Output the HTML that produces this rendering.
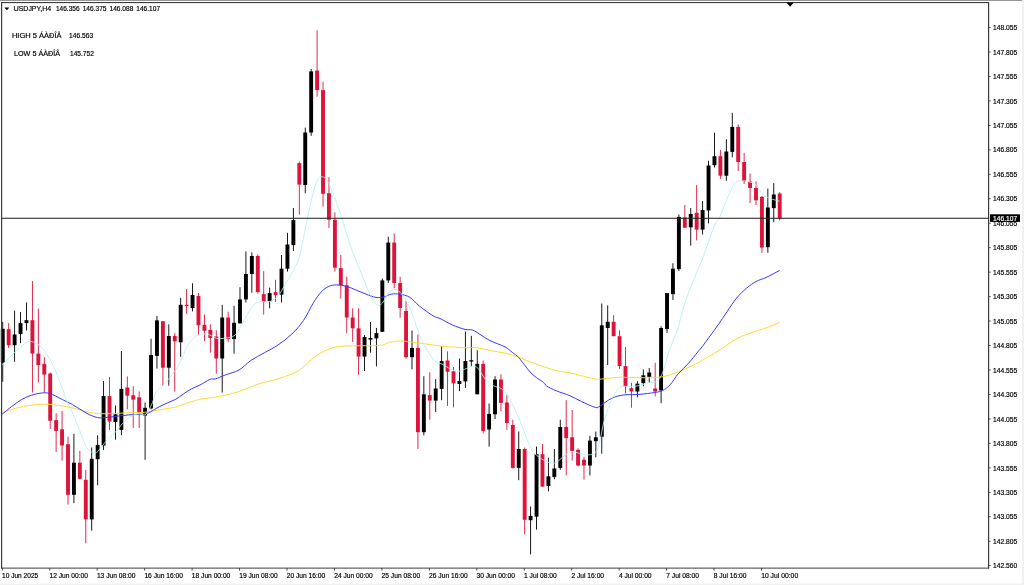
<!DOCTYPE html><html><head><meta charset="utf-8"><title>USDJPY,H4</title>
<style>html,body{margin:0;padding:0;background:#fff;overflow:hidden}svg{display:block}text{font-family:"Liberation Sans",sans-serif;fill:#000;stroke:#000;stroke-width:0.18px}</style></head><body>
<svg width="1024" height="585" viewBox="0 0 1024 585">
<rect x="0" y="0" width="1024" height="585" fill="#fff"/>
<rect x="0" y="0" width="1023" height="0.9" fill="#8c8c8c"/>
<rect x="1022" y="0" width="2" height="585" fill="#f1f1f1"/>
<rect x="0" y="583.6" width="1024" height="1.4" fill="#f1f1f1"/>
<rect x="2.30" y="321.9" width="0.9" height="59.9" fill="#000"/>
<rect x="0.80" y="328.8" width="3.9" height="33.8" fill="#000"/>
<rect x="8.23" y="323.1" width="0.9" height="25.0" fill="#dc143c"/>
<rect x="6.73" y="329.2" width="3.9" height="16.0" fill="#dc143c"/>
<rect x="14.16" y="310.6" width="0.9" height="51.2" fill="#000"/>
<rect x="12.66" y="334.5" width="3.9" height="10.7" fill="#000"/>
<rect x="20.09" y="312.0" width="0.9" height="31.2" fill="#000"/>
<rect x="18.59" y="323.1" width="3.9" height="11.0" fill="#000"/>
<rect x="26.02" y="302.4" width="0.9" height="28.1" fill="#000"/>
<rect x="24.52" y="320.2" width="3.9" height="2.9" fill="#000"/>
<rect x="31.96" y="281.1" width="0.9" height="111.4" fill="#dc143c"/>
<rect x="30.46" y="320.2" width="3.9" height="33.4" fill="#dc143c"/>
<rect x="37.89" y="308.5" width="0.9" height="73.8" fill="#dc143c"/>
<rect x="36.39" y="353.6" width="3.9" height="11.5" fill="#dc143c"/>
<rect x="43.82" y="356.9" width="0.9" height="35.6" fill="#dc143c"/>
<rect x="42.32" y="363.8" width="3.9" height="10.8" fill="#dc143c"/>
<rect x="49.75" y="372.5" width="0.9" height="56.4" fill="#dc143c"/>
<rect x="48.25" y="373.5" width="3.9" height="47.2" fill="#dc143c"/>
<rect x="55.68" y="413.3" width="0.9" height="38.7" fill="#dc143c"/>
<rect x="54.18" y="420.1" width="3.9" height="10.8" fill="#dc143c"/>
<rect x="61.61" y="411.0" width="0.9" height="49.6" fill="#dc143c"/>
<rect x="60.11" y="429.3" width="3.9" height="16.2" fill="#dc143c"/>
<rect x="67.54" y="436.7" width="0.9" height="67.9" fill="#dc143c"/>
<rect x="66.04" y="444.2" width="3.9" height="50.6" fill="#dc143c"/>
<rect x="73.47" y="433.8" width="0.9" height="69.4" fill="#000"/>
<rect x="71.97" y="462.7" width="3.9" height="32.1" fill="#000"/>
<rect x="79.40" y="450.8" width="0.9" height="28.3" fill="#dc143c"/>
<rect x="77.90" y="462.7" width="3.9" height="16.1" fill="#dc143c"/>
<rect x="85.33" y="469.9" width="0.9" height="73.4" fill="#dc143c"/>
<rect x="83.83" y="479.8" width="3.9" height="39.6" fill="#dc143c"/>
<rect x="91.27" y="447.5" width="0.9" height="83.1" fill="#000"/>
<rect x="89.77" y="458.8" width="3.9" height="60.6" fill="#000"/>
<rect x="97.20" y="435.2" width="0.9" height="50.1" fill="#000"/>
<rect x="95.70" y="444.9" width="3.9" height="14.3" fill="#000"/>
<rect x="103.13" y="381.0" width="0.9" height="69.0" fill="#000"/>
<rect x="101.63" y="396.1" width="3.9" height="49.4" fill="#000"/>
<rect x="109.06" y="377.0" width="0.9" height="52.9" fill="#dc143c"/>
<rect x="107.56" y="396.1" width="3.9" height="25.4" fill="#dc143c"/>
<rect x="114.99" y="405.5" width="0.9" height="34.2" fill="#000"/>
<rect x="113.49" y="414.3" width="3.9" height="7.8" fill="#000"/>
<rect x="120.92" y="351.0" width="0.9" height="84.2" fill="#000"/>
<rect x="119.42" y="388.9" width="3.9" height="41.0" fill="#000"/>
<rect x="126.85" y="376.4" width="0.9" height="33.0" fill="#dc143c"/>
<rect x="125.35" y="387.5" width="3.9" height="8.2" fill="#dc143c"/>
<rect x="132.78" y="386.3" width="0.9" height="41.6" fill="#dc143c"/>
<rect x="131.28" y="395.3" width="3.9" height="4.3" fill="#dc143c"/>
<rect x="138.71" y="391.4" width="0.9" height="36.5" fill="#dc143c"/>
<rect x="137.21" y="397.3" width="3.9" height="16.0" fill="#dc143c"/>
<rect x="144.64" y="402.6" width="0.9" height="57.2" fill="#000"/>
<rect x="143.14" y="407.8" width="3.9" height="7.8" fill="#000"/>
<rect x="150.58" y="338.8" width="0.9" height="70.6" fill="#000"/>
<rect x="149.08" y="355.0" width="3.9" height="53.4" fill="#000"/>
<rect x="156.51" y="315.9" width="0.9" height="52.7" fill="#000"/>
<rect x="155.01" y="320.4" width="3.9" height="35.5" fill="#000"/>
<rect x="162.44" y="321.0" width="0.9" height="64.5" fill="#dc143c"/>
<rect x="160.94" y="321.2" width="3.9" height="46.5" fill="#dc143c"/>
<rect x="168.37" y="324.3" width="0.9" height="61.3" fill="#000"/>
<rect x="166.87" y="336.0" width="3.9" height="31.7" fill="#000"/>
<rect x="174.30" y="332.9" width="0.9" height="58.7" fill="#dc143c"/>
<rect x="172.80" y="336.0" width="3.9" height="5.3" fill="#dc143c"/>
<rect x="180.23" y="297.9" width="0.9" height="59.0" fill="#000"/>
<rect x="178.73" y="304.8" width="3.9" height="37.5" fill="#000"/>
<rect x="186.16" y="289.1" width="0.9" height="24.8" fill="#dc143c"/>
<rect x="184.66" y="304.8" width="3.9" height="1.3" fill="#dc143c"/>
<rect x="192.09" y="283.3" width="0.9" height="28.1" fill="#000"/>
<rect x="190.59" y="295.0" width="3.9" height="13.1" fill="#000"/>
<rect x="198.02" y="293.0" width="0.9" height="42.2" fill="#dc143c"/>
<rect x="196.52" y="296.0" width="3.9" height="29.3" fill="#dc143c"/>
<rect x="203.95" y="314.6" width="0.9" height="26.4" fill="#dc143c"/>
<rect x="202.45" y="324.8" width="3.9" height="5.9" fill="#dc143c"/>
<rect x="209.89" y="324.4" width="0.9" height="28.3" fill="#dc143c"/>
<rect x="208.39" y="329.8" width="3.9" height="8.2" fill="#dc143c"/>
<rect x="215.82" y="330.2" width="0.9" height="43.3" fill="#dc143c"/>
<rect x="214.32" y="336.5" width="3.9" height="22.0" fill="#dc143c"/>
<rect x="221.75" y="304.8" width="0.9" height="87.7" fill="#000"/>
<rect x="220.25" y="317.5" width="3.9" height="41.0" fill="#000"/>
<rect x="227.68" y="311.7" width="0.9" height="30.3" fill="#dc143c"/>
<rect x="226.18" y="317.5" width="3.9" height="21.5" fill="#dc143c"/>
<rect x="233.61" y="305.8" width="0.9" height="47.9" fill="#000"/>
<rect x="232.11" y="322.8" width="3.9" height="16.2" fill="#000"/>
<rect x="239.54" y="287.2" width="0.9" height="36.1" fill="#000"/>
<rect x="238.04" y="299.4" width="3.9" height="24.0" fill="#000"/>
<rect x="245.47" y="251.4" width="0.9" height="51.1" fill="#000"/>
<rect x="243.97" y="274.0" width="3.9" height="25.4" fill="#000"/>
<rect x="251.40" y="252.4" width="0.9" height="40.3" fill="#000"/>
<rect x="249.90" y="256.0" width="3.9" height="18.0" fill="#000"/>
<rect x="257.33" y="254.3" width="0.9" height="39.2" fill="#dc143c"/>
<rect x="255.83" y="256.0" width="3.9" height="36.1" fill="#dc143c"/>
<rect x="263.26" y="271.2" width="0.9" height="43.4" fill="#dc143c"/>
<rect x="261.76" y="294.1" width="3.9" height="7.8" fill="#dc143c"/>
<rect x="269.19" y="287.6" width="0.9" height="20.7" fill="#000"/>
<rect x="267.69" y="293.1" width="3.9" height="8.2" fill="#000"/>
<rect x="275.13" y="279.8" width="0.9" height="22.1" fill="#dc143c"/>
<rect x="273.63" y="292.1" width="3.9" height="3.0" fill="#dc143c"/>
<rect x="281.06" y="255.0" width="0.9" height="47.5" fill="#000"/>
<rect x="279.56" y="268.7" width="3.9" height="26.0" fill="#000"/>
<rect x="286.99" y="232.8" width="0.9" height="38.8" fill="#000"/>
<rect x="285.49" y="244.5" width="3.9" height="24.2" fill="#000"/>
<rect x="292.92" y="208.0" width="0.9" height="43.0" fill="#000"/>
<rect x="291.42" y="220.1" width="3.9" height="25.0" fill="#000"/>
<rect x="298.85" y="161.5" width="0.9" height="53.2" fill="#dc143c"/>
<rect x="297.35" y="163.1" width="3.9" height="21.5" fill="#dc143c"/>
<rect x="304.78" y="127.6" width="0.9" height="65.6" fill="#000"/>
<rect x="303.28" y="132.5" width="3.9" height="52.5" fill="#000"/>
<rect x="310.71" y="69.0" width="0.9" height="66.8" fill="#000"/>
<rect x="309.21" y="71.4" width="3.9" height="61.1" fill="#000"/>
<rect x="316.64" y="30.3" width="0.9" height="66.5" fill="#dc143c"/>
<rect x="315.14" y="70.6" width="3.9" height="19.5" fill="#dc143c"/>
<rect x="322.57" y="81.7" width="0.9" height="124.8" fill="#dc143c"/>
<rect x="321.07" y="90.1" width="3.9" height="103.7" fill="#dc143c"/>
<rect x="328.50" y="177.2" width="0.9" height="50.8" fill="#dc143c"/>
<rect x="327.00" y="193.2" width="3.9" height="26.5" fill="#dc143c"/>
<rect x="334.44" y="212.3" width="0.9" height="59.3" fill="#dc143c"/>
<rect x="332.94" y="219.7" width="3.9" height="48.0" fill="#dc143c"/>
<rect x="340.37" y="254.9" width="0.9" height="43.7" fill="#dc143c"/>
<rect x="338.87" y="268.1" width="3.9" height="17.2" fill="#dc143c"/>
<rect x="346.30" y="276.5" width="0.9" height="56.6" fill="#dc143c"/>
<rect x="344.80" y="285.3" width="3.9" height="32.2" fill="#dc143c"/>
<rect x="352.23" y="308.3" width="0.9" height="33.6" fill="#dc143c"/>
<rect x="350.73" y="317.5" width="3.9" height="10.8" fill="#dc143c"/>
<rect x="358.16" y="308.3" width="0.9" height="66.6" fill="#dc143c"/>
<rect x="356.66" y="328.3" width="3.9" height="28.3" fill="#dc143c"/>
<rect x="364.09" y="335.1" width="0.9" height="35.9" fill="#000"/>
<rect x="362.59" y="337.0" width="3.9" height="19.6" fill="#000"/>
<rect x="370.02" y="322.0" width="0.9" height="30.7" fill="#000"/>
<rect x="368.52" y="338.0" width="3.9" height="1.6" fill="#000"/>
<rect x="375.95" y="327.9" width="0.9" height="38.5" fill="#000"/>
<rect x="374.45" y="333.1" width="3.9" height="5.3" fill="#000"/>
<rect x="381.88" y="278.5" width="0.9" height="53.3" fill="#000"/>
<rect x="380.38" y="280.4" width="3.9" height="51.4" fill="#000"/>
<rect x="387.81" y="236.7" width="0.9" height="46.3" fill="#000"/>
<rect x="386.31" y="242.6" width="3.9" height="37.8" fill="#000"/>
<rect x="393.75" y="233.4" width="0.9" height="54.8" fill="#dc143c"/>
<rect x="392.25" y="242.6" width="3.9" height="40.4" fill="#dc143c"/>
<rect x="399.68" y="276.8" width="0.9" height="41.0" fill="#dc143c"/>
<rect x="398.18" y="283.0" width="3.9" height="25.0" fill="#dc143c"/>
<rect x="405.61" y="300.7" width="0.9" height="57.9" fill="#dc143c"/>
<rect x="404.11" y="311.0" width="3.9" height="46.2" fill="#dc143c"/>
<rect x="411.54" y="330.5" width="0.9" height="38.8" fill="#000"/>
<rect x="410.04" y="347.9" width="3.9" height="9.3" fill="#000"/>
<rect x="417.47" y="334.4" width="0.9" height="114.6" fill="#dc143c"/>
<rect x="415.97" y="347.9" width="3.9" height="84.3" fill="#dc143c"/>
<rect x="423.40" y="376.2" width="0.9" height="59.2" fill="#000"/>
<rect x="421.90" y="394.3" width="3.9" height="37.9" fill="#000"/>
<rect x="429.33" y="372.3" width="0.9" height="47.4" fill="#dc143c"/>
<rect x="427.83" y="395.1" width="3.9" height="5.5" fill="#dc143c"/>
<rect x="435.26" y="379.1" width="0.9" height="32.8" fill="#000"/>
<rect x="433.76" y="388.5" width="3.9" height="12.1" fill="#000"/>
<rect x="441.19" y="345.9" width="0.9" height="54.3" fill="#000"/>
<rect x="439.69" y="361.1" width="3.9" height="27.8" fill="#000"/>
<rect x="447.12" y="351.4" width="0.9" height="54.6" fill="#dc143c"/>
<rect x="445.62" y="360.5" width="3.9" height="11.2" fill="#dc143c"/>
<rect x="453.06" y="367.0" width="0.9" height="40.4" fill="#dc143c"/>
<rect x="451.56" y="371.3" width="3.9" height="12.1" fill="#dc143c"/>
<rect x="458.99" y="358.6" width="0.9" height="32.6" fill="#000"/>
<rect x="457.49" y="381.0" width="3.9" height="3.0" fill="#000"/>
<rect x="464.92" y="331.5" width="0.9" height="56.4" fill="#000"/>
<rect x="463.42" y="361.1" width="3.9" height="20.3" fill="#000"/>
<rect x="470.85" y="335.8" width="0.9" height="30.6" fill="#000"/>
<rect x="469.35" y="360.2" width="3.9" height="1.3" fill="#000"/>
<rect x="476.78" y="350.2" width="0.9" height="44.1" fill="#000"/>
<rect x="475.28" y="363.9" width="3.9" height="30.4" fill="#000"/>
<rect x="482.71" y="360.5" width="0.9" height="72.9" fill="#dc143c"/>
<rect x="481.21" y="363.9" width="3.9" height="67.0" fill="#dc143c"/>
<rect x="488.64" y="403.5" width="0.9" height="43.1" fill="#000"/>
<rect x="487.14" y="413.9" width="3.9" height="15.6" fill="#000"/>
<rect x="494.57" y="376.2" width="0.9" height="42.9" fill="#000"/>
<rect x="493.07" y="379.5" width="3.9" height="34.8" fill="#000"/>
<rect x="500.50" y="374.2" width="0.9" height="37.1" fill="#dc143c"/>
<rect x="499.00" y="379.5" width="3.9" height="23.4" fill="#dc143c"/>
<rect x="506.44" y="394.7" width="0.9" height="35.2" fill="#dc143c"/>
<rect x="504.94" y="402.5" width="3.9" height="20.5" fill="#dc143c"/>
<rect x="512.37" y="419.7" width="0.9" height="48.8" fill="#dc143c"/>
<rect x="510.87" y="425.0" width="3.9" height="42.9" fill="#dc143c"/>
<rect x="518.30" y="431.4" width="0.9" height="48.8" fill="#000"/>
<rect x="516.80" y="449.0" width="3.9" height="18.9" fill="#000"/>
<rect x="524.23" y="447.5" width="0.9" height="86.8" fill="#dc143c"/>
<rect x="522.73" y="449.0" width="3.9" height="70.8" fill="#dc143c"/>
<rect x="530.16" y="506.5" width="0.9" height="47.9" fill="#000"/>
<rect x="528.66" y="515.9" width="3.9" height="4.3" fill="#000"/>
<rect x="536.09" y="446.5" width="0.9" height="83.1" fill="#000"/>
<rect x="534.59" y="454.2" width="3.9" height="62.5" fill="#000"/>
<rect x="542.02" y="444.0" width="0.9" height="42.6" fill="#dc143c"/>
<rect x="540.52" y="454.2" width="3.9" height="32.4" fill="#dc143c"/>
<rect x="547.95" y="457.7" width="0.9" height="33.6" fill="#000"/>
<rect x="546.45" y="476.3" width="3.9" height="9.7" fill="#000"/>
<rect x="553.88" y="449.0" width="0.9" height="30.2" fill="#000"/>
<rect x="552.38" y="468.5" width="3.9" height="8.4" fill="#000"/>
<rect x="559.81" y="419.7" width="0.9" height="50.1" fill="#000"/>
<rect x="558.31" y="427.0" width="3.9" height="40.9" fill="#000"/>
<rect x="565.75" y="400.2" width="0.9" height="75.1" fill="#dc143c"/>
<rect x="564.25" y="427.0" width="3.9" height="11.1" fill="#dc143c"/>
<rect x="571.68" y="410.0" width="0.9" height="50.6" fill="#dc143c"/>
<rect x="570.18" y="437.3" width="3.9" height="13.6" fill="#dc143c"/>
<rect x="577.61" y="448.4" width="0.9" height="18.1" fill="#dc143c"/>
<rect x="576.11" y="449.8" width="3.9" height="15.7" fill="#dc143c"/>
<rect x="583.54" y="456.7" width="0.9" height="22.9" fill="#dc143c"/>
<rect x="582.04" y="459.7" width="3.9" height="5.8" fill="#dc143c"/>
<rect x="589.47" y="435.8" width="0.9" height="39.6" fill="#000"/>
<rect x="587.97" y="440.6" width="3.9" height="24.9" fill="#000"/>
<rect x="595.40" y="431.5" width="0.9" height="25.8" fill="#000"/>
<rect x="593.90" y="437.3" width="3.9" height="3.9" fill="#000"/>
<rect x="601.33" y="303.5" width="0.9" height="150.2" fill="#000"/>
<rect x="599.83" y="325.3" width="3.9" height="111.5" fill="#000"/>
<rect x="607.26" y="305.4" width="0.9" height="59.6" fill="#000"/>
<rect x="605.76" y="321.8" width="3.9" height="6.2" fill="#000"/>
<rect x="613.19" y="315.2" width="0.9" height="21.0" fill="#dc143c"/>
<rect x="611.69" y="321.8" width="3.9" height="14.4" fill="#dc143c"/>
<rect x="619.12" y="330.3" width="0.9" height="38.7" fill="#dc143c"/>
<rect x="617.62" y="336.2" width="3.9" height="29.9" fill="#dc143c"/>
<rect x="625.05" y="347.1" width="0.9" height="46.3" fill="#dc143c"/>
<rect x="623.55" y="366.1" width="3.9" height="20.5" fill="#dc143c"/>
<rect x="630.99" y="382.7" width="0.9" height="25.0" fill="#dc143c"/>
<rect x="629.49" y="388.2" width="3.9" height="3.3" fill="#dc143c"/>
<rect x="636.92" y="381.1" width="0.9" height="16.2" fill="#000"/>
<rect x="635.42" y="383.7" width="3.9" height="7.8" fill="#000"/>
<rect x="642.85" y="369.4" width="0.9" height="16.8" fill="#000"/>
<rect x="641.35" y="375.3" width="3.9" height="7.8" fill="#000"/>
<rect x="648.78" y="368.0" width="0.9" height="14.7" fill="#000"/>
<rect x="647.28" y="372.5" width="3.9" height="4.3" fill="#000"/>
<rect x="654.71" y="362.8" width="0.9" height="33.6" fill="#dc143c"/>
<rect x="653.21" y="388.5" width="3.9" height="3.0" fill="#dc143c"/>
<rect x="660.64" y="326.3" width="0.9" height="76.9" fill="#000"/>
<rect x="659.14" y="328.0" width="3.9" height="62.5" fill="#000"/>
<rect x="666.57" y="293.1" width="0.9" height="39.8" fill="#000"/>
<rect x="665.07" y="293.1" width="3.9" height="35.9" fill="#000"/>
<rect x="672.50" y="263.2" width="0.9" height="36.8" fill="#000"/>
<rect x="671.00" y="268.7" width="3.9" height="25.4" fill="#000"/>
<rect x="678.43" y="214.4" width="0.9" height="56.6" fill="#000"/>
<rect x="676.93" y="216.9" width="3.9" height="52.2" fill="#000"/>
<rect x="684.37" y="205.0" width="0.9" height="22.7" fill="#dc143c"/>
<rect x="682.87" y="217.4" width="3.9" height="10.3" fill="#dc143c"/>
<rect x="690.30" y="208.1" width="0.9" height="37.5" fill="#000"/>
<rect x="688.80" y="214.0" width="3.9" height="13.3" fill="#000"/>
<rect x="696.23" y="185.1" width="0.9" height="55.3" fill="#dc143c"/>
<rect x="694.73" y="212.8" width="3.9" height="16.8" fill="#dc143c"/>
<rect x="702.16" y="201.1" width="0.9" height="33.4" fill="#000"/>
<rect x="700.66" y="210.1" width="3.9" height="19.5" fill="#000"/>
<rect x="708.09" y="160.7" width="0.9" height="62.7" fill="#000"/>
<rect x="706.59" y="165.5" width="3.9" height="45.0" fill="#000"/>
<rect x="714.02" y="132.7" width="0.9" height="34.8" fill="#000"/>
<rect x="712.52" y="156.2" width="3.9" height="9.0" fill="#000"/>
<rect x="719.95" y="149.9" width="0.9" height="28.9" fill="#dc143c"/>
<rect x="718.45" y="156.2" width="3.9" height="19.5" fill="#dc143c"/>
<rect x="725.88" y="139.2" width="0.9" height="41.6" fill="#000"/>
<rect x="724.38" y="151.5" width="3.9" height="24.2" fill="#000"/>
<rect x="731.81" y="112.8" width="0.9" height="44.5" fill="#000"/>
<rect x="730.31" y="126.9" width="3.9" height="25.0" fill="#000"/>
<rect x="737.74" y="124.5" width="0.9" height="46.5" fill="#dc143c"/>
<rect x="736.24" y="126.9" width="3.9" height="35.1" fill="#dc143c"/>
<rect x="743.67" y="152.9" width="0.9" height="31.2" fill="#dc143c"/>
<rect x="742.17" y="162.0" width="3.9" height="19.2" fill="#dc143c"/>
<rect x="749.61" y="173.4" width="0.9" height="29.6" fill="#dc143c"/>
<rect x="748.11" y="181.6" width="3.9" height="6.4" fill="#dc143c"/>
<rect x="755.54" y="181.2" width="0.9" height="23.8" fill="#dc143c"/>
<rect x="754.04" y="188.0" width="3.9" height="12.3" fill="#dc143c"/>
<rect x="761.47" y="195.9" width="0.9" height="57.1" fill="#dc143c"/>
<rect x="759.97" y="196.8" width="3.9" height="50.8" fill="#dc143c"/>
<rect x="767.40" y="188.6" width="0.9" height="64.1" fill="#000"/>
<rect x="765.90" y="207.5" width="3.9" height="39.7" fill="#000"/>
<rect x="773.33" y="183.1" width="0.9" height="39.1" fill="#000"/>
<rect x="771.83" y="194.5" width="3.9" height="13.6" fill="#000"/>
<rect x="779.26" y="192.2" width="0.9" height="28.2" fill="#dc143c"/>
<rect x="777.76" y="193.5" width="3.9" height="24.9" fill="#dc143c"/>
<path d="M2.00,413.30 C3.62,412.65 8.13,410.53 11.70,409.40 C15.27,408.27 19.48,407.28 23.40,406.50 C27.32,405.72 31.28,405.10 35.20,404.70 C39.12,404.30 43.00,403.97 46.90,404.10 C50.80,404.23 54.70,404.95 58.60,405.50 C62.50,406.05 66.40,406.58 70.30,407.40 C74.20,408.22 78.42,409.48 82.00,410.40 C85.58,411.32 88.53,412.35 91.80,412.90 C95.07,413.45 97.37,413.63 101.60,413.70 C105.83,413.77 112.00,413.47 117.20,413.30 C122.40,413.13 128.25,412.87 132.80,412.70 C137.35,412.53 140.59,412.68 144.50,412.30 C148.41,411.92 152.33,411.05 156.25,410.40 C160.17,409.75 164.74,408.97 168.00,408.40 C171.26,407.83 172.88,407.82 175.80,407.00 C178.72,406.18 182.25,404.57 185.50,403.50 C188.75,402.43 192.88,401.32 195.30,400.60 C197.72,399.88 195.97,399.90 200.00,399.20 C204.03,398.50 213.00,397.68 219.50,396.40 C226.00,395.12 232.48,393.57 239.00,391.50 C245.52,389.43 252.08,386.12 258.60,384.00 C265.12,381.88 272.57,380.48 278.10,378.80 C283.63,377.12 288.22,375.37 291.80,373.90 C295.38,372.43 296.67,372.07 299.60,370.00 C302.53,367.93 305.82,364.38 309.40,361.50 C312.98,358.62 316.55,355.15 321.10,352.70 C325.65,350.25 330.84,347.95 336.70,346.80 C342.56,345.65 349.08,346.02 356.25,345.80 C363.42,345.58 374.16,346.08 379.70,345.50 C385.24,344.92 386.12,343.05 389.50,342.30 C392.88,341.55 395.00,340.88 400.00,341.00 C405.00,341.12 412.83,342.17 419.50,343.00 C426.17,343.83 434.50,345.32 440.00,346.00 C445.50,346.68 448.33,346.81 452.50,347.10 C456.67,347.39 460.83,347.64 465.00,347.75 C469.17,347.86 473.33,347.27 477.50,347.75 C481.67,348.23 485.42,349.71 490.00,350.60 C494.58,351.49 500.42,352.05 505.00,353.10 C509.58,354.15 513.33,355.43 517.50,356.90 C521.67,358.37 525.83,360.34 530.00,361.90 C534.17,363.46 538.33,364.86 542.50,366.25 C546.67,367.64 550.75,369.21 555.00,370.25 C559.25,371.29 564.53,371.84 568.00,372.50 C571.47,373.16 571.25,373.10 575.80,374.20 C580.35,375.30 591.27,378.27 595.30,379.10 C599.33,379.93 595.97,379.52 600.00,379.20 C604.03,378.88 613.00,377.43 619.50,377.20 C626.00,376.97 632.48,377.80 639.00,377.80 C645.52,377.80 653.70,377.62 658.60,377.20 C663.50,376.78 664.50,376.45 668.40,375.30 C672.30,374.15 677.15,372.35 682.00,370.30 C686.85,368.25 693.33,365.13 697.50,363.00 C701.67,360.87 703.58,359.46 707.00,357.50 C710.42,355.54 713.05,354.38 718.00,351.25 C722.95,348.12 730.33,342.09 736.70,338.70 C743.08,335.31 751.37,332.68 756.25,330.90 C761.13,329.12 762.16,329.42 766.00,328.00 C769.84,326.58 777.08,323.33 779.30,322.40" fill="none" stroke="#ffd92e" stroke-width="1.0" stroke-linejoin="round" stroke-linecap="round"/>
<path d="M2.00,414.30 C3.62,413.00 8.45,408.95 11.70,406.50 C14.95,404.05 18.24,401.47 21.50,399.60 C24.76,397.73 28.33,396.33 31.25,395.30 C34.17,394.27 36.56,393.82 39.00,393.40 C41.44,392.98 43.62,392.58 45.90,392.80 C48.18,393.02 49.93,393.57 52.70,394.70 C55.47,395.83 59.23,397.97 62.50,399.60 C65.77,401.23 69.05,402.70 72.30,404.50 C75.55,406.30 79.08,408.67 82.00,410.40 C84.92,412.13 87.18,413.70 89.80,414.90 C92.42,416.10 95.08,417.15 97.70,417.60 C100.32,418.05 102.25,417.83 105.50,417.60 C108.75,417.37 113.30,416.65 117.20,416.20 C121.10,415.75 125.00,415.22 128.90,414.90 C132.80,414.58 137.35,414.63 140.60,414.30 C143.85,413.97 145.79,413.88 148.40,412.90 C151.01,411.92 153.32,409.97 156.25,408.40 C159.18,406.83 162.74,405.03 166.00,403.50 C169.26,401.97 172.87,400.82 175.80,399.20 C178.73,397.58 181.00,395.52 183.60,393.80 C186.20,392.08 188.67,390.37 191.40,388.90 C194.13,387.43 196.93,386.58 200.00,385.00 C203.07,383.42 207.20,380.43 209.80,379.40 C212.40,378.37 213.00,379.55 215.60,378.80 C218.20,378.05 221.50,376.37 225.40,374.90 C229.30,373.43 234.77,372.40 239.00,370.00 C243.23,367.60 246.55,363.38 250.80,360.50 C255.05,357.62 259.95,355.30 264.50,352.70 C269.05,350.10 273.55,348.00 278.10,344.90 C282.65,341.80 287.57,338.17 291.80,334.10 C296.03,330.03 299.92,325.70 303.50,320.50 C307.08,315.30 310.37,307.63 313.30,302.90 C316.23,298.17 318.50,294.87 321.10,292.10 C323.70,289.33 326.30,287.50 328.90,286.30 C331.50,285.10 333.77,284.90 336.70,284.90 C339.63,284.90 343.24,285.42 346.50,286.30 C349.76,287.18 353.00,288.90 356.25,290.20 C359.50,291.50 362.74,292.90 366.00,294.10 C369.26,295.30 372.87,296.92 375.80,297.40 C378.73,297.88 381.00,297.55 383.60,297.00 C386.20,296.45 388.67,294.55 391.40,294.10 C394.13,293.65 396.93,293.77 400.00,294.30 C403.07,294.83 406.55,295.33 409.80,297.30 C413.05,299.27 415.60,303.00 419.50,306.10 C423.40,309.20 429.78,313.83 433.20,315.90 C436.62,317.97 436.78,316.98 440.00,318.50 C443.22,320.02 448.33,323.18 452.50,325.00 C456.67,326.82 461.67,328.57 465.00,329.40 C468.33,330.23 470.00,329.17 472.50,330.00 C475.00,330.83 477.08,332.63 480.00,334.40 C482.92,336.17 485.83,338.52 490.00,340.60 C494.17,342.68 501.25,344.92 505.00,346.90 C508.75,348.88 510.21,350.73 512.50,352.50 C514.79,354.27 516.67,355.32 518.75,357.50 C520.83,359.68 523.12,363.20 525.00,365.60 C526.88,368.00 528.12,369.92 530.00,371.90 C531.88,373.88 533.96,375.73 536.25,377.50 C538.54,379.27 542.04,381.10 543.75,382.50 C545.46,383.90 544.42,384.52 546.50,385.90 C548.58,387.28 552.35,389.17 556.25,390.80 C560.15,392.43 565.67,393.90 569.90,395.70 C574.12,397.50 577.37,399.65 581.60,401.60 C585.83,403.55 592.23,406.67 595.30,407.40 C598.37,408.13 597.27,407.52 600.00,406.00 C602.73,404.48 607.80,400.13 611.70,398.30 C615.60,396.47 618.85,395.65 623.40,395.00 C627.95,394.35 633.78,394.82 639.00,394.40 C644.22,393.98 650.78,393.15 654.70,392.50 C658.62,391.85 659.90,391.82 662.50,390.50 C665.10,389.18 667.70,387.37 670.30,384.60 C672.90,381.83 675.02,377.50 678.10,373.90 C681.18,370.30 685.48,366.65 688.75,363.00 C692.02,359.35 695.41,354.79 697.70,352.00 C699.99,349.21 700.45,348.92 702.50,346.25 C704.55,343.58 707.42,339.54 710.00,336.00 C712.58,332.46 715.17,329.05 718.00,325.00 C720.83,320.95 723.88,316.20 727.00,311.70 C730.12,307.20 733.45,301.92 736.70,298.00 C739.95,294.08 743.24,290.97 746.50,288.20 C749.76,285.43 753.00,283.18 756.25,281.40 C759.50,279.62 762.16,279.30 766.00,277.50 C769.84,275.70 777.08,271.75 779.30,270.60" fill="none" stroke="#3838ff" stroke-width="1.0" stroke-linejoin="round" stroke-linecap="round"/>
<path d="M2.00,365.20 C3.95,363.23 9.48,357.25 13.70,353.40 C17.92,349.55 23.40,343.67 27.30,342.10 C31.20,340.53 34.17,342.43 37.10,344.00 C40.03,345.57 41.97,347.33 44.90,351.50 C47.83,355.67 51.43,361.83 54.70,369.00 C57.97,376.17 62.58,389.33 64.50,394.50 C66.42,399.67 65.33,397.83 66.25,400.00 C67.17,402.17 68.54,404.38 70.00,407.50 C71.46,410.62 73.33,414.79 75.00,418.75 C76.67,422.71 78.54,427.50 80.00,431.25 C81.46,435.00 82.50,438.33 83.75,441.25 C85.00,444.17 86.25,446.98 87.50,448.75 C88.75,450.52 89.79,451.27 91.25,451.90 C92.71,452.52 94.79,453.02 96.25,452.50 C97.71,451.98 98.54,450.42 100.00,448.75 C101.46,447.08 103.33,444.38 105.00,442.50 C106.67,440.62 108.33,439.17 110.00,437.50 C111.67,435.83 113.12,434.58 115.00,432.50 C116.88,430.42 119.38,427.08 121.25,425.00 C123.12,422.92 124.79,421.35 126.25,420.00 C127.71,418.65 128.54,417.83 130.00,416.90 C131.46,415.97 133.33,414.92 135.00,414.40 C136.67,413.88 138.33,413.65 140.00,413.75 C141.67,413.85 143.54,415.62 145.00,415.00 C146.46,414.38 147.50,412.08 148.75,410.00 C150.00,407.92 151.25,405.53 152.50,402.50 C153.75,399.47 154.65,394.45 156.25,391.80 C157.85,389.15 159.49,389.42 162.10,386.60 C164.71,383.78 168.97,378.80 171.90,374.90 C174.83,371.00 177.10,368.08 179.70,363.20 C182.30,358.32 184.90,350.00 187.50,345.60 C190.10,341.20 193.22,338.65 195.30,336.80 C197.38,334.95 197.92,334.95 200.00,334.50 C202.08,334.05 205.03,333.45 207.80,334.10 C210.57,334.75 213.67,337.75 216.60,338.40 C219.53,339.05 222.30,338.55 225.40,338.00 C228.50,337.45 232.27,337.70 235.20,335.10 C238.13,332.50 240.40,326.80 243.00,322.40 C245.60,318.00 248.20,312.12 250.80,308.70 C253.40,305.28 255.35,303.13 258.60,301.90 C261.85,300.67 267.05,302.28 270.30,301.30 C273.55,300.32 275.50,299.00 278.10,296.00 C280.70,293.00 283.29,287.68 285.90,283.30 C288.51,278.92 291.47,274.25 293.75,269.70 C296.03,265.15 297.64,262.95 299.60,256.00 C301.56,249.05 303.55,237.23 305.50,228.00 C307.45,218.77 309.35,208.58 311.30,200.60 C313.25,192.62 315.40,184.07 317.20,180.10 C319.00,176.13 320.47,176.80 322.10,176.80 C323.73,176.80 325.22,177.43 327.00,180.10 C328.78,182.77 330.53,187.10 332.80,192.80 C335.07,198.50 338.00,206.48 340.60,214.30 C343.20,222.12 346.12,232.75 348.40,239.70 C350.68,246.65 352.02,250.03 354.30,256.00 C356.58,261.97 359.50,269.15 362.10,275.50 C364.70,281.85 367.45,289.22 369.90,294.10 C372.35,298.98 374.68,303.33 376.80,304.80 C378.92,306.27 380.82,304.68 382.60,302.90 C384.38,301.12 385.70,296.38 387.50,294.10 C389.30,291.82 391.32,289.50 393.40,289.20 C395.48,288.90 397.92,290.45 400.00,292.30 C402.08,294.15 403.95,297.02 405.90,300.30 C407.85,303.58 409.75,307.12 411.70,312.00 C413.65,316.88 415.80,324.60 417.60,329.60 C419.40,334.60 420.55,337.98 422.50,342.00 C424.45,346.02 427.18,350.45 429.30,353.70 C431.42,356.95 432.92,359.70 435.20,361.50 C437.48,363.30 440.40,363.20 443.00,364.50 C445.60,365.80 448.20,368.17 450.80,369.30 C453.40,370.43 456.32,371.30 458.60,371.30 C460.88,371.30 462.22,370.12 464.50,369.30 C466.78,368.48 470.03,366.55 472.30,366.40 C474.57,366.25 475.83,366.12 478.10,368.40 C480.37,370.68 483.29,377.18 485.90,380.10 C488.51,383.02 491.13,384.43 493.75,385.90 C496.37,387.37 498.99,386.78 501.60,388.90 C504.21,391.02 506.80,394.37 509.40,398.60 C512.00,402.83 514.60,408.43 517.20,414.30 C519.80,420.17 522.72,428.12 525.00,433.80 C527.28,439.48 529.27,445.07 530.90,448.40 C532.53,451.73 532.53,451.77 534.80,453.80 C537.07,455.83 541.25,459.03 544.50,460.60 C547.75,462.17 551.37,463.68 554.30,463.20 C557.23,462.72 559.50,459.58 562.10,457.70 C564.70,455.82 567.30,452.72 569.90,451.90 C572.50,451.08 575.10,452.32 577.70,452.80 C580.30,453.28 582.57,454.80 585.50,454.80 C588.43,454.80 592.88,455.27 595.30,452.80 C597.72,450.33 598.57,445.18 600.00,440.00 C601.43,434.82 602.27,427.72 603.90,421.75 C605.53,415.78 607.85,409.07 609.80,404.20 C611.75,399.32 613.65,395.43 615.60,392.50 C617.55,389.57 618.89,387.58 621.50,386.60 C624.11,385.62 628.33,386.77 631.25,386.60 C634.17,386.43 636.08,386.25 639.00,385.60 C641.92,384.95 645.87,383.35 648.80,382.70 C651.73,382.05 654.32,383.33 656.60,381.70 C658.88,380.07 660.53,377.62 662.50,372.90 C664.47,368.18 666.45,359.25 668.40,353.40 C670.35,347.55 672.58,342.03 674.20,337.80 C675.82,333.57 676.47,333.33 678.10,328.00 C679.73,322.67 681.72,313.08 684.00,305.80 C686.28,298.52 688.87,291.78 691.80,284.30 C694.73,276.82 698.67,268.38 701.60,260.90 C704.53,253.42 707.13,245.58 709.40,239.40 C711.67,233.22 713.42,227.65 715.20,223.80 C716.98,219.95 718.13,220.48 720.10,216.30 C722.07,212.12 724.55,204.28 727.00,198.75 C729.45,193.22 732.53,186.09 734.80,183.10 C737.07,180.11 738.33,181.05 740.60,180.80 C742.87,180.55 745.79,180.88 748.40,181.60 C751.01,182.32 753.97,183.05 756.25,185.10 C758.53,187.15 759.83,191.68 762.10,193.90 C764.38,196.12 767.03,197.20 769.90,198.40 C772.77,199.60 777.73,200.65 779.30,201.10" fill="none" stroke="#b2eef2" stroke-width="0.85" stroke-linejoin="round" stroke-linecap="round"/>
<rect x="2" y="217.75" width="987" height="1.05" fill="#262626"/>
<rect x="1" y="2" width="988" height="1.1" fill="#3c3c3c"/>
<rect x="1" y="2" width="1.2" height="566.5" fill="#3c3c3c"/>
<rect x="1" y="567.6" width="988" height="1.0" fill="#3c3c3c"/>
<rect x="988" y="2" width="1.2" height="566.5" fill="#3c3c3c"/>
<polygon points="786.4,2.5 793.8,2.5 790.1,6.8" fill="#000"/>
<polygon points="4.4,7.4 9.4,7.4 6.9,10.3" fill="#000"/>
<text x="13.7" y="11.3" font-size="7" textLength="37.4" lengthAdjust="spacingAndGlyphs">USDJPY,H4</text>
<text x="55.9" y="11.3" font-size="7" textLength="23.8" lengthAdjust="spacingAndGlyphs">146.356</text>
<text x="82.7" y="11.3" font-size="7" textLength="23.8" lengthAdjust="spacingAndGlyphs">146.375</text>
<text x="109.5" y="11.3" font-size="7" textLength="23.8" lengthAdjust="spacingAndGlyphs">146.088</text>
<text x="136.3" y="11.3" font-size="7" textLength="23.8" lengthAdjust="spacingAndGlyphs">146.107</text>
<text x="11.9" y="38.1" font-size="7" textLength="49.6" lengthAdjust="spacingAndGlyphs">HIGH 5 ÁÀÐÎÂ</text>
<text x="69.1" y="38.1" font-size="7" textLength="24.0" lengthAdjust="spacingAndGlyphs">146.563</text>
<text x="14.0" y="56.4" font-size="7" textLength="46.0" lengthAdjust="spacingAndGlyphs">LOW 5 ÁÀÐÎÂ</text>
<text x="70.0" y="56.4" font-size="7" textLength="23.8" lengthAdjust="spacingAndGlyphs">145.752</text>
<rect x="989" y="27.1" width="1.6" height="0.9" fill="#3c3c3c"/>
<text x="993.1" y="30.1" font-size="7" textLength="24.1" lengthAdjust="spacingAndGlyphs">148.055</text>
<rect x="989" y="51.5" width="1.6" height="0.9" fill="#3c3c3c"/>
<text x="993.1" y="54.6" font-size="7" textLength="24.1" lengthAdjust="spacingAndGlyphs">147.805</text>
<rect x="989" y="76.0" width="1.6" height="0.9" fill="#3c3c3c"/>
<text x="993.1" y="79.0" font-size="7" textLength="24.1" lengthAdjust="spacingAndGlyphs">147.555</text>
<rect x="989" y="100.4" width="1.6" height="0.9" fill="#3c3c3c"/>
<text x="993.1" y="103.5" font-size="7" textLength="24.1" lengthAdjust="spacingAndGlyphs">147.305</text>
<rect x="989" y="124.9" width="1.6" height="0.9" fill="#3c3c3c"/>
<text x="993.1" y="128.0" font-size="7" textLength="24.1" lengthAdjust="spacingAndGlyphs">147.055</text>
<rect x="989" y="149.4" width="1.6" height="0.9" fill="#3c3c3c"/>
<text x="993.1" y="152.4" font-size="7" textLength="24.1" lengthAdjust="spacingAndGlyphs">146.805</text>
<rect x="989" y="173.8" width="1.6" height="0.9" fill="#3c3c3c"/>
<text x="993.1" y="176.9" font-size="7" textLength="24.1" lengthAdjust="spacingAndGlyphs">146.555</text>
<rect x="989" y="198.3" width="1.6" height="0.9" fill="#3c3c3c"/>
<text x="993.1" y="201.3" font-size="7" textLength="24.1" lengthAdjust="spacingAndGlyphs">146.305</text>
<rect x="989" y="222.8" width="1.6" height="0.9" fill="#3c3c3c"/>
<text x="993.1" y="225.8" font-size="7" textLength="24.1" lengthAdjust="spacingAndGlyphs">146.055</text>
<rect x="989" y="247.2" width="1.6" height="0.9" fill="#3c3c3c"/>
<text x="993.1" y="250.3" font-size="7" textLength="24.1" lengthAdjust="spacingAndGlyphs">145.805</text>
<rect x="989" y="271.7" width="1.6" height="0.9" fill="#3c3c3c"/>
<text x="993.1" y="274.7" font-size="7" textLength="24.1" lengthAdjust="spacingAndGlyphs">145.555</text>
<rect x="989" y="296.2" width="1.6" height="0.9" fill="#3c3c3c"/>
<text x="993.1" y="299.2" font-size="7" textLength="24.1" lengthAdjust="spacingAndGlyphs">145.305</text>
<rect x="989" y="320.6" width="1.6" height="0.9" fill="#3c3c3c"/>
<text x="993.1" y="323.7" font-size="7" textLength="24.1" lengthAdjust="spacingAndGlyphs">145.055</text>
<rect x="989" y="345.1" width="1.6" height="0.9" fill="#3c3c3c"/>
<text x="993.1" y="348.1" font-size="7" textLength="24.1" lengthAdjust="spacingAndGlyphs">144.805</text>
<rect x="989" y="369.5" width="1.6" height="0.9" fill="#3c3c3c"/>
<text x="993.1" y="372.6" font-size="7" textLength="24.1" lengthAdjust="spacingAndGlyphs">144.555</text>
<rect x="989" y="394.0" width="1.6" height="0.9" fill="#3c3c3c"/>
<text x="993.1" y="397.1" font-size="7" textLength="24.1" lengthAdjust="spacingAndGlyphs">144.305</text>
<rect x="989" y="418.5" width="1.6" height="0.9" fill="#3c3c3c"/>
<text x="993.1" y="421.5" font-size="7" textLength="24.1" lengthAdjust="spacingAndGlyphs">144.055</text>
<rect x="989" y="442.9" width="1.6" height="0.9" fill="#3c3c3c"/>
<text x="993.1" y="446.0" font-size="7" textLength="24.1" lengthAdjust="spacingAndGlyphs">143.805</text>
<rect x="989" y="467.4" width="1.6" height="0.9" fill="#3c3c3c"/>
<text x="993.1" y="470.5" font-size="7" textLength="24.1" lengthAdjust="spacingAndGlyphs">143.555</text>
<rect x="989" y="491.9" width="1.6" height="0.9" fill="#3c3c3c"/>
<text x="993.1" y="494.9" font-size="7" textLength="24.1" lengthAdjust="spacingAndGlyphs">143.305</text>
<rect x="989" y="516.3" width="1.6" height="0.9" fill="#3c3c3c"/>
<text x="993.1" y="519.4" font-size="7" textLength="24.1" lengthAdjust="spacingAndGlyphs">143.055</text>
<rect x="989" y="540.8" width="1.6" height="0.9" fill="#3c3c3c"/>
<text x="993.1" y="543.8" font-size="7" textLength="24.1" lengthAdjust="spacingAndGlyphs">142.805</text>
<rect x="989" y="565.0" width="1.6" height="0.9" fill="#3c3c3c"/>
<text x="993.1" y="568.1" font-size="7" textLength="24.1" lengthAdjust="spacingAndGlyphs">142.560</text>
<rect x="990" y="214.3" width="30" height="7.6" fill="#000"/>
<text x="993.1" y="221.0" font-size="7" textLength="24.1" lengthAdjust="spacingAndGlyphs" style="fill:#fff;stroke:#fff">146.107</text>
<rect x="1.85" y="568" width="0.9" height="2.6" fill="#3c3c3c"/>
<text x="2.0" y="577.5" font-size="7" textLength="36.2" lengthAdjust="spacingAndGlyphs">10 Jun 2025</text>
<rect x="49.30" y="568" width="0.9" height="2.6" fill="#3c3c3c"/>
<text x="49.5" y="577.5" font-size="7" textLength="38.5" lengthAdjust="spacingAndGlyphs">12 Jun 00:00</text>
<rect x="96.75" y="568" width="0.9" height="2.6" fill="#3c3c3c"/>
<text x="96.9" y="577.5" font-size="7" textLength="38.5" lengthAdjust="spacingAndGlyphs">13 Jun 08:00</text>
<rect x="144.20" y="568" width="0.9" height="2.6" fill="#3c3c3c"/>
<text x="144.4" y="577.5" font-size="7" textLength="38.5" lengthAdjust="spacingAndGlyphs">16 Jun 16:00</text>
<rect x="191.65" y="568" width="0.9" height="2.6" fill="#3c3c3c"/>
<text x="191.8" y="577.5" font-size="7" textLength="38.5" lengthAdjust="spacingAndGlyphs">18 Jun 00:00</text>
<rect x="239.10" y="568" width="0.9" height="2.6" fill="#3c3c3c"/>
<text x="239.2" y="577.5" font-size="7" textLength="38.5" lengthAdjust="spacingAndGlyphs">19 Jun 08:00</text>
<rect x="286.55" y="568" width="0.9" height="2.6" fill="#3c3c3c"/>
<text x="286.7" y="577.5" font-size="7" textLength="38.5" lengthAdjust="spacingAndGlyphs">20 Jun 16:00</text>
<rect x="334.00" y="568" width="0.9" height="2.6" fill="#3c3c3c"/>
<text x="334.2" y="577.5" font-size="7" textLength="38.5" lengthAdjust="spacingAndGlyphs">24 Jun 00:00</text>
<rect x="381.45" y="568" width="0.9" height="2.6" fill="#3c3c3c"/>
<text x="381.6" y="577.5" font-size="7" textLength="38.5" lengthAdjust="spacingAndGlyphs">25 Jun 08:00</text>
<rect x="428.90" y="568" width="0.9" height="2.6" fill="#3c3c3c"/>
<text x="429.1" y="577.5" font-size="7" textLength="38.5" lengthAdjust="spacingAndGlyphs">26 Jun 16:00</text>
<rect x="476.35" y="568" width="0.9" height="2.6" fill="#3c3c3c"/>
<text x="476.5" y="577.5" font-size="7" textLength="38.5" lengthAdjust="spacingAndGlyphs">30 Jun 00:00</text>
<rect x="523.80" y="568" width="0.9" height="2.6" fill="#3c3c3c"/>
<text x="524.0" y="577.5" font-size="7" textLength="32.7" lengthAdjust="spacingAndGlyphs">1 Jul 08:00</text>
<rect x="571.25" y="568" width="0.9" height="2.6" fill="#3c3c3c"/>
<text x="571.4" y="577.5" font-size="7" textLength="32.7" lengthAdjust="spacingAndGlyphs">2 Jul 16:00</text>
<rect x="618.70" y="568" width="0.9" height="2.6" fill="#3c3c3c"/>
<text x="618.9" y="577.5" font-size="7" textLength="32.7" lengthAdjust="spacingAndGlyphs">4 Jul 00:00</text>
<rect x="666.15" y="568" width="0.9" height="2.6" fill="#3c3c3c"/>
<text x="666.3" y="577.5" font-size="7" textLength="32.7" lengthAdjust="spacingAndGlyphs">7 Jul 08:00</text>
<rect x="713.60" y="568" width="0.9" height="2.6" fill="#3c3c3c"/>
<text x="713.8" y="577.5" font-size="7" textLength="32.7" lengthAdjust="spacingAndGlyphs">8 Jul 16:00</text>
<rect x="761.05" y="568" width="0.9" height="2.6" fill="#3c3c3c"/>
<text x="761.2" y="577.5" font-size="7" textLength="37.0" lengthAdjust="spacingAndGlyphs">10 Jul 00:00</text>
</svg></body></html>
